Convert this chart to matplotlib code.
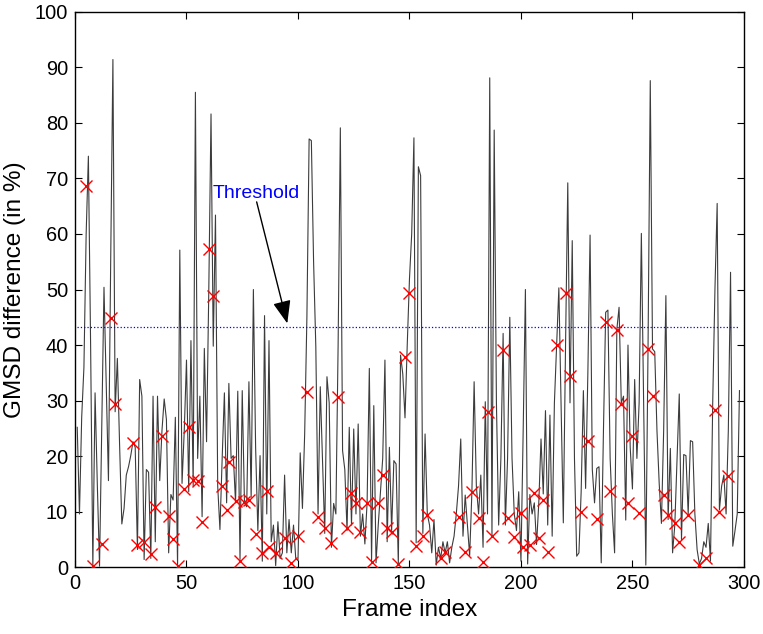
import matplotlib
matplotlib.use("Agg")
import matplotlib.pyplot as plt
import numpy as np

plt.rcParams["font.family"] = ["Liberation Sans", "DejaVu Sans"]

# GMSD difference per frame (frames 1..298)
gmsd = [
    25.2, 9.6, 27, 36, 60, 74, 40, 0.1, 31.4, 15,
    0.2, 25, 50.4, 33, 15.6, 55, 91.4, 28, 37.6, 22,
    7.8, 10.6, 16.6, 18.1, 20.1, 22.6, 21.6, 3.2, 33.8, 30.8,
    1.4, 17.6, 17.1, 1.6, 30.8, 4.6, 30.8, 15.6, 24.6, 30.3,
    26.6, 2.6, 13.1, 12.1, 27, 0.1, 57.1, 15.1, 24.6, 37.3,
    13.6, 40.8, 14.6, 85.5, 19.6, 30.8, 9.1, 39.4, 22.6, 49.8,
    81.6, 39.8, 63.4, 14.6, 6.8, 19.6, 31.4, 11.6, 33.1, 19.6,
    20.1, 11.6, 31.7, 1.4, 31.8, 11.6, 10.9, 33.4, 12.6, 50,
    21.6, 6.6, 20.1, 1.1, 45.3, 9.6, 40.8, 4.6, 7.6, 0.3,
    8.2, 1.6, 2.6, 16.6, 2.6, 8.6, 2.6, 7.6, 1.6, 1.2,
    20.6, 10.6, 24, 45, 77.1, 76.8, 55, 39.7, 9.6, 32.5,
    19.6, 6.1, 34.3, 29.6, 3.6, 11.5, 9.6, 40, 79.1, 21,
    17.6, 6.6, 25.2, 7.6, 24.9, 9.6, 25.8, 5.6, 9.6, 4.2,
    11.6, 35.8, 1.1, 29.1, 0.8, 7.6, 13.6, 19.6, 37.3, 4.6,
    21.6, 6.6, 19.2, 18.6, 0.6, 38.2, 34.8, 26.9, 40, 51.9,
    60, 77.3, 4.4, 72.1, 70.5, 6.1, 24, 9.6, 7.6, 2.6,
    8.6, 0.4, 3.6, 1.6, 4.6, 2.6, 4.6, 0.8, 3.6, 5.6,
    9.6, 14.6, 23.1, 5.6, 13, 7.6, 2.1, 13.6, 33.4, 14.6,
    9.6, 16.6, 3.6, 29.8, 9.6, 88.1, 5.6, 78.7, 29.6, 7.6,
    19.6, 42.1, 7.6, 19.6, 45, 19.6, 9.6, 6.6, 13.6, 1.1,
    24.6, 50, 0.6, 13.1, 9.6, 11.6, 4.1, 11.6, 23.1, 13.2,
    28.2, 7.6, 27.4, 5.6, 29.6, 40, 50.3, 29.6, 8, 40,
    69.2, 29.6, 58.8, 19.6, 2, 2.6, 13.6, 31.8, 14.2, 34.8,
    59.8, 17.6, 11.6, 17.8, 18.1, 0.8, 24.6, 45.9, 46.3, 19.6,
    9.6, 2.6, 42.8, 46.8, 29.6, 30.8, 8.5, 40, 21.6, 14.1,
    33.8, 19.6, 29.6, 60.1, 29.6, 0.4, 39.8, 87.6, 39.3, 38.8,
    24.6, 15.1, 7.9, 24.6, 48.9, 8.6, 21.4, 2.6, 7.6, 19.6,
    31.2, 5, 20.3, 20.1, 9.6, 22.8, 22.6, 9.6, 3.2, 0.6,
    1.6, 4.6, 3.6, 7.9, 1.1, 29.6, 50, 65.5, 10.3, 14.6,
    16.6, 9.6, 24.6, 53.1, 3.8, 6.6, 9.6, 31.8,
]
frames = np.arange(1, len(gmsd) + 1)

# red cross markers
mark_frames = [
    5, 8, 12, 16, 18, 26, 28, 31, 34, 36, 39, 42, 44, 46, 49, 51, 53, 55, 57, 60,
    62, 66, 68, 69, 72, 74, 76, 78, 81, 84, 86, 87, 90, 94, 97, 100, 104, 109, 112, 115,
    118, 122, 124, 126, 128, 131, 133, 136, 138, 140, 142, 145, 148, 150, 153, 156, 158, 164, 166, 172,
    175, 178, 181, 183, 185, 187, 192, 194, 197, 200, 201, 204, 206, 208, 210, 212, 216, 220, 222, 227,
    230, 234, 238, 240, 243, 245, 248, 250, 253, 257, 259, 264, 266, 269, 271, 275, 280, 283, 287, 289,
    293,
]
mark_vals = [
    68.6, 0.2, 4.2, 44.9, 29.4, 22.4, 4.1, 4.6, 2.4, 10.8, 23.7, 9.3, 5.1, 0.2, 14.1, 25.2, 15.8, 15.5, 8.1, 57.3,
    48.8, 14.7, 10.3, 19, 11.9, 1.1, 11.7, 12.1, 6, 2.6, 13.7, 3.6, 2.6, 5.2, 0.8, 5.7, 31.6, 9.1, 7, 4.4,
    30.6, 7, 13.4, 11.6, 6.4, 11.6, 0.9, 11.6, 16.6, 7, 6.4, 0.6, 37.8, 49.3, 3.8, 5.6, 9.4, 1.6, 2.8, 9.1,
    2.8, 13.6, 8.8, 0.9, 28, 5.7, 39.2, 8.8, 5.4, 9.7, 3.6, 4, 13.3, 5.2, 12.1, 2.8, 40.1, 49.3, 34.4, 10,
    22.8, 8.7, 44.2, 13.8, 42.8, 29.4, 11.5, 23.7, 9.7, 39.3, 30.9, 13, 9.4, 7.9, 4.6, 9.4, 0.4, 1.6, 28.3, 9.9,
    16.4,
]

threshold = 43.3
thr_span = [1, 298]

fig = plt.figure(figsize=(7.63, 6.34), dpi=100)
ax = fig.add_axes([0.0983, 0.1052, 0.8767, 0.8763])

ax.plot(frames, gmsd, color="#3c3c3c", lw=0.8, zorder=2)
ax.plot(mark_frames, mark_vals, "x", color="red", ms=9, mew=1.0, zorder=3)
ax.plot(thr_span, [threshold, threshold], ":", color="blue", lw=0.9, zorder=2)

ax.annotate("Threshold", xy=(95.2, 43.9), xytext=(61.9, 67.3),
            color="blue", fontsize=14, ha="left", va="center",
            arrowprops=dict(arrowstyle="-|>,head_length=14,head_width=5.5",
                            mutation_scale=1, color="black", lw=1.0,
                            shrinkA=0, shrinkB=0, patchA=None,
                            relpos=(0.5, 0.0)))

ax.set_xlim(0, 300)
ax.set_ylim(0, 100)
ax.set_xticks(np.arange(0, 301, 50))
ax.set_yticks(np.arange(0, 101, 10))
ax.tick_params(direction="in", top=True, right=True, length=5, width=0.8,
               labelsize=14.4, pad=5)
for s in ax.spines.values():
    s.set_linewidth(1.0)

ax.set_xlabel("Frame index", fontsize=17.6, labelpad=4)
ax.set_ylabel("GMSD difference (in %)", fontsize=17.6, labelpad=6)

fig.savefig("out.png", dpi=100)
plt.close(fig)
